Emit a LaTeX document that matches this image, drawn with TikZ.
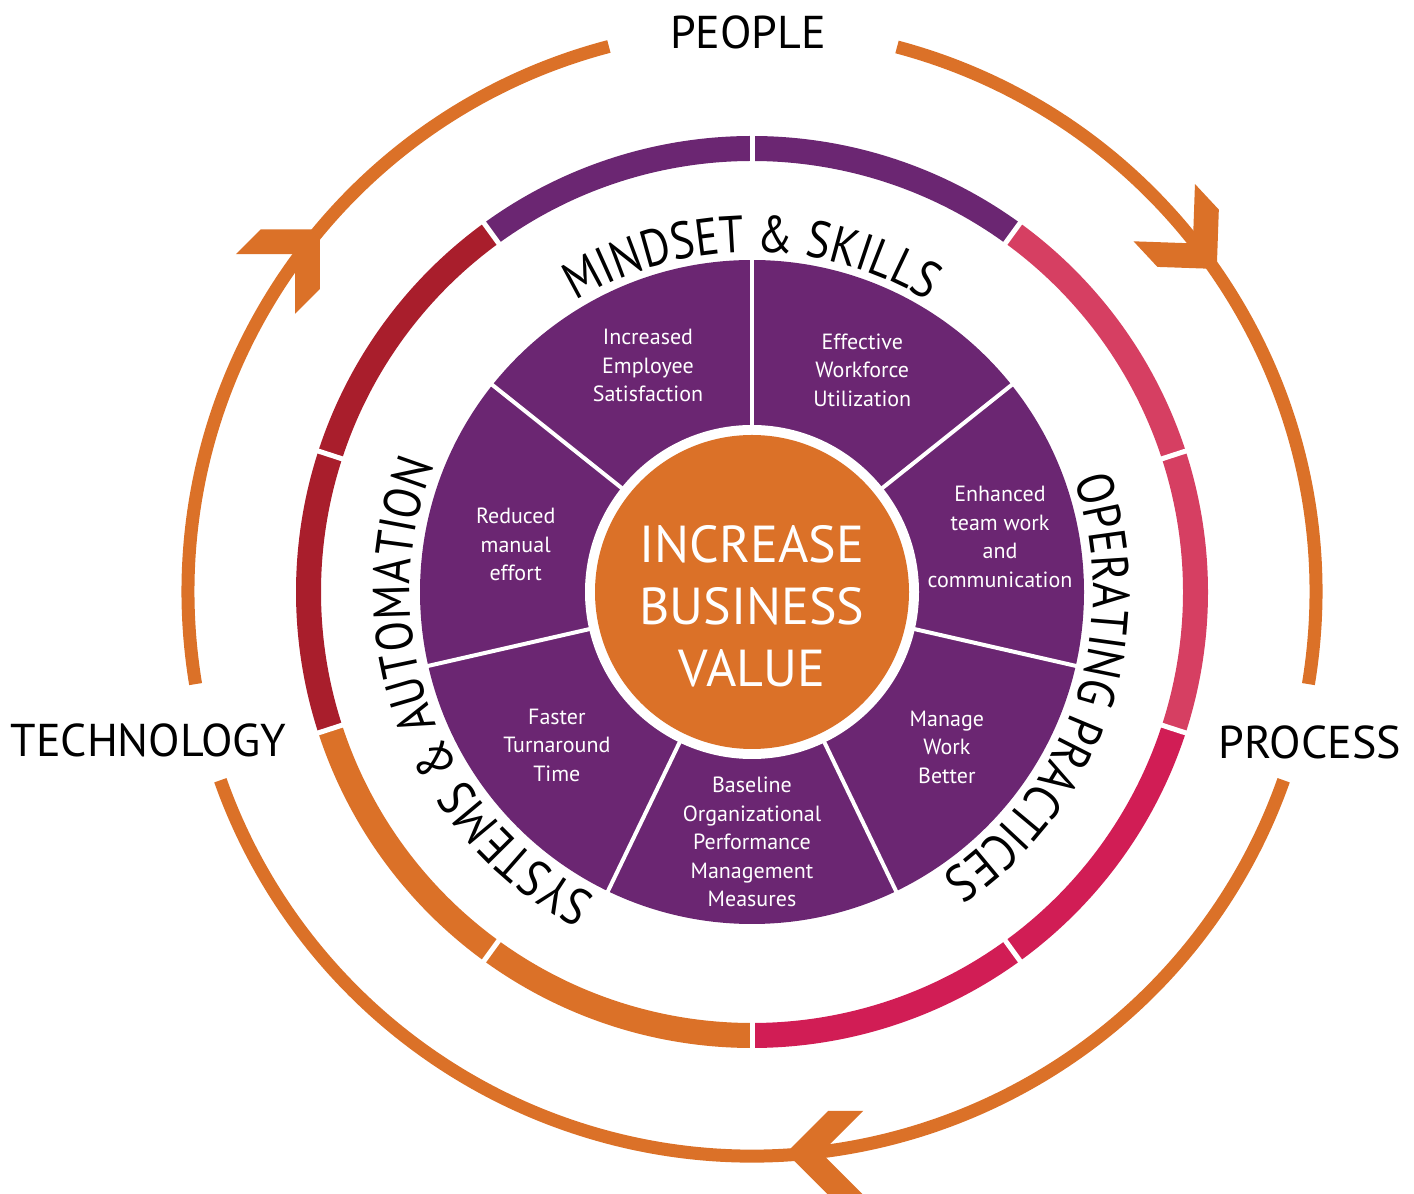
\documentclass[tikz,border=0pt]{standalone}
\usepackage{fontspec}
\setmainfont{PT Sans}
\newfontfamily\arcfont[FakeStretch = 0.85]{PT Sans}
\usetikzlibrary{positioning, calc, decorations.text}
\definecolor{wheelPurple}{RGB}{107,38,114}
\definecolor{wheelRed}{RGB}{169,30,44}
\definecolor{wheelOrange}{RGB}{219,113,40}
\definecolor{wheelPink}{RGB}{214,63,98}
\definecolor{wheelCrimson}{RGB}{209,29,85}

\begin{document}
\begin{tikzpicture}[x = 1pt, y = 1pt,
        Ring/.style = {line width = 25pt},
        % 
        Flow/.style = {draw = wheelOrange, line width = 13pt},
        % 
        Gap/.style = {draw = white, line width = 5pt},
        Divider/.style = {draw = white, line width = 4pt},
        % 
        Sector/.style = {text = white, align = center, inner sep = 0, font = \fontsize{22}{28.5}\selectfont},
        Core/.style = {text = white, align = center, inner sep = 0, font = \fontsize{52}{62}\selectfont},
        Pillar/.style = {inner sep = 0, font = \fontsize{46}{50}\selectfont},
        Curved/.style = {decorate, decoration = {text along path, text align = center, text = {|\arcfont\fontsize{52}{52}\selectfont|#1}}},
        % 
        flowhead/.pic = {\fill[wheelOrange] (0,0) -- (-42,42) -- (-77,42) -- (-35,0) -- (-77,-42) -- (-42,-42) -- cycle;},
    ]
        \useasboundingbox (0,0) rectangle (1414,1194);
        \coordinate (Centre) at (752,602);

        % Flow ring
        \draw[Flow] ([shift = {(189.4:564)}]Centre) arc[start angle = 189.4, end angle = 104.7, radius = 564];
        \draw[Flow] ([shift = {(75.1:564)}]Centre) arc[start angle = 75.1, end angle = -9.4, radius = 564];
        \draw[Flow] ([shift = {(-19.5:564)}]Centre) arc[start angle = -19.5, end angle = -160.5, radius = 564];

        % Arrow heads
        \path ([shift = {(140:564)}]Centre) pic[rotate = 45] {flowhead};
        \path ([shift = {(34.8:566)}]Centre) pic[rotate = -47] {flowhead};
        \path ([shift = {(-86.5:562)}]Centre) pic[rotate = 180] {flowhead};

        % Coloured ring
        \foreach \a/\col in {90/wheelPurple, 54/wheelPink, 18/wheelPink, -18/wheelCrimson, -54/wheelCrimson, -90/wheelOrange, -126/wheelOrange, -162/wheelRed, 162/wheelRed, 126/wheelPurple}
            \draw[Ring, draw = \col] ([shift = {(\a:443.5)}]Centre) arc[start angle = \a, end angle = \a - 36, radius = 443.5];
        \foreach \k in {0,...,9}
            \draw[Gap] ([shift = {({90 - 36*\k}:425)}]Centre) -- ([shift = {({90 - 36*\k}:462)}]Centre);

        % Sectors
        \fill[wheelPurple] (Centre) circle (332);
        \foreach \k in {0,...,6}
            \draw[Divider] (Centre) -- ([shift = {({90 - \k*360/7}:340)}]Centre);
        \fill[white] (Centre) circle (167);
        \fill[wheelOrange] (Centre) circle (157);

        % Sector labels
        \foreach \ang/\rad/\txt [count = \i] in {114.7/249/{Increased\\Employee\\Satisfaction}, 63.6/248/{Effective\\Workforce\\Utilization}, 12.5/254/{Enhanced\\team work\\and\\communication}, -38.5/249/{Manage\\Work\\Better}, -90/250/{Baseline\\Organizational\\Performance\\Management\\Measures}, -141.9/248/{Faster\\Turnaround\\Time}, 168.7/241/{Reduced\\manual\\effort}}
            \node[Sector] (Sector\i) at ([shift = {(\ang:\rad)}]Centre) {\txt};

        % Core
        \node[Core] (Value) at ([yshift = -14.5pt]Centre) {INCREASE\\BUSINESS\\VALUE};

        % Curved labels
        \path[Curved = {MINDSET {\&} SKILLS}] ([shift = {(150:340)}]Centre) arc[start angle = 150, end angle = 30, radius = 340];
        \path[Curved = {OPERATING PRACTICES}] ([shift = {(41.5:341)}]Centre) arc[start angle = 41.5, end angle = -78.5, radius = 341];
        \path[Curved = {SYSTEMS {\&} AUTOMATION}] ([shift = {(260.5:342)}]Centre) arc[start angle = 260.5, end angle = 140.5, radius = 342];

        % Pillars
        \node[Pillar] (People) at (748,1162) {PEOPLE};
        \node[Pillar] (Technology) at (148.5,454) {TECHNOLOGY};
        \node[Pillar] (Process) at (1310,452) {PROCESS};

    \end{tikzpicture}
\end{document}
